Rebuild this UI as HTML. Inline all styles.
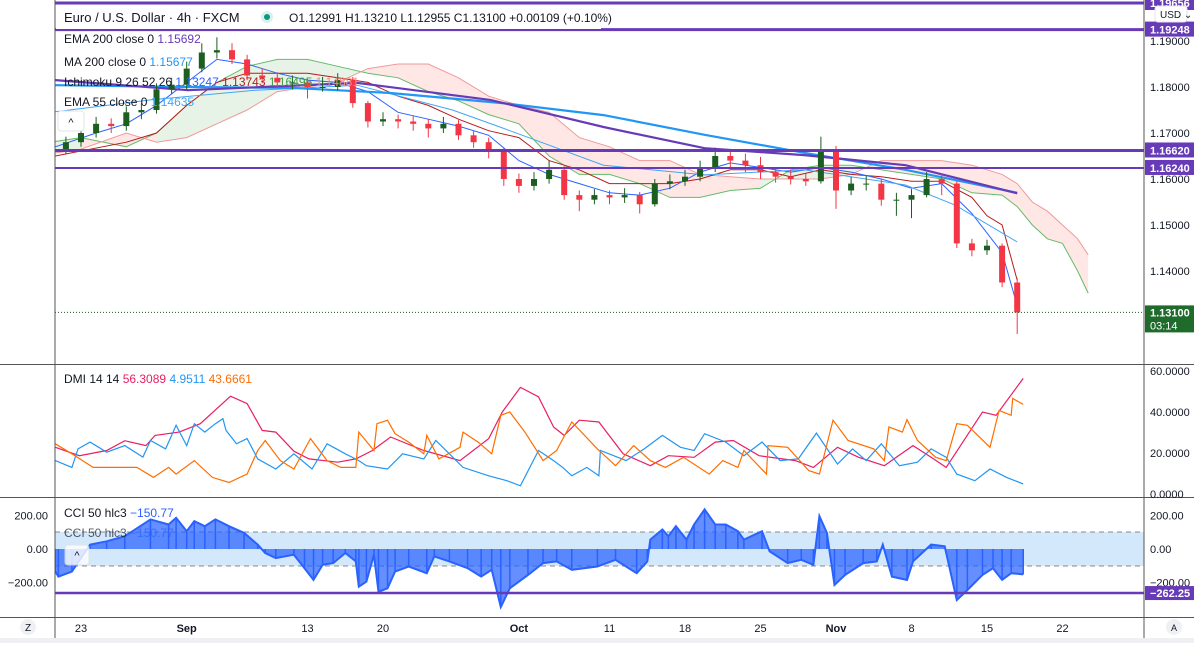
<!DOCTYPE html>
<html><head><meta charset="utf-8">
<style>
html,body{margin:0;padding:0;background:#fff;}
body{width:1194px;height:643px;overflow:hidden;font-family:"Liberation Sans",sans-serif;}
svg text{font-family:"Liberation Sans",sans-serif;}
</style></head>
<body>
<svg id="chart" width="1194" height="643" viewBox="0 0 1194 643" xmlns="http://www.w3.org/2000/svg">
  <defs>
    <clipPath id="mainClip"><rect x="55" y="0" width="1089" height="364"/></clipPath>
    <clipPath id="dmiClip"><rect x="55" y="364" width="1089" height="133"/></clipPath>
    <clipPath id="cciClip"><rect x="55" y="497" width="1089" height="120"/></clipPath>
  </defs>
  <rect x="0" y="0" width="1194" height="643" fill="#fff"/>
  <rect x="55" y="532" width="1089" height="34" fill="#d4e8fb"/>
  <line x1="55" y1="532" x2="1144" y2="532" stroke="#888" stroke-dasharray="5,4" stroke-width="1"/>
  <line x1="55" y1="566" x2="1144" y2="566" stroke="#888" stroke-dasharray="5,4" stroke-width="1"/>
  <g id="cloud" clip-path="url(#mainClip)"></g>
  <g id="lines" clip-path="url(#mainClip)"></g>
  <g id="candles" clip-path="url(#mainClip)"></g>
  <g id="dmi" clip-path="url(#dmiClip)"></g>
  <g id="cci" clip-path="url(#cciClip)"></g>
  <g id="hlines"></g>
  <line x1="55" y1="0" x2="55" y2="643" stroke="#555" stroke-width="1"/>
  <line x1="1144" y1="0" x2="1144" y2="643" stroke="#555" stroke-width="1"/>
  <line x1="0" y1="364.5" x2="1194" y2="364.5" stroke="#555" stroke-width="1"/>
  <line x1="0" y1="497.5" x2="1194" y2="497.5" stroke="#555" stroke-width="1"/>
  <line x1="0" y1="617.5" x2="1194" y2="617.5" stroke="#555" stroke-width="1"/>
  <rect x="0" y="638" width="1194" height="5" fill="#eef0f4"/>
  <g id="axes"></g>
  <rect x="56" y="6" width="545" height="23" fill="#fff"/>
  <text x="64" y="22" font-size="13" fill="#131722">Euro / U.S. Dollar · 4h · FXCM</text>
  <circle cx="267" cy="17" r="6" fill="#d9f0ec"/>
  <circle cx="267" cy="17" r="3" fill="#089981"/>
  <text x="289" y="22" font-size="12" fill="#131722">O1.12991 H1.13210 L1.12955 C1.13100 +0.00109 (+0.10%)</text>
  <text x="64" y="43" font-size="12" fill="#131722">EMA 200 close 0 <tspan fill="#673ab7">1.15692</tspan></text>
  <text x="64" y="66" font-size="12" fill="#131722">MA 200 close 0 <tspan fill="#2196f3">1.15677</tspan></text>
  <text x="64" y="86" font-size="12" fill="#131722">Ichimoku 9 26 52 26 <tspan fill="#2962ff">1.13247</tspan> <tspan fill="#b71c1c">1.13743</tspan> <tspan fill="#43a047">1.16495</tspan> <tspan fill="#f28b82">1.14881</tspan></text>
  <text x="64" y="106" font-size="12" fill="#131722">EMA 55 close 0 <tspan fill="#42a5f5">1.14635</tspan></text>
  <rect x="58" y="111" width="26" height="20" rx="3" fill="#fff" stroke="#e0e3eb"/>
  <text x="71" y="126" font-size="11" text-anchor="middle" fill="#131722">^</text>
  <text x="64" y="383" font-size="12" fill="#131722">DMI 14 14 <tspan fill="#e91e63">56.3089</tspan> <tspan fill="#2196f3">4.9511</tspan> <tspan fill="#ff6d00">43.6661</tspan></text>
  <text x="64" y="517" font-size="12" fill="#131722">CCI 50 hlc3 <tspan fill="#2962ff">−150.77</tspan></text>
  <text x="64" y="537" font-size="12" fill="#131722" opacity="0.7">CCI 50 hlc3 <tspan fill="#2962ff">−150.77</tspan></text>
  <rect x="65" y="545" width="24" height="20" rx="3" fill="#fff" stroke="#e0e3eb" opacity="0.8"/>
  <text x="77" y="559" font-size="11" text-anchor="middle" fill="#131722">^</text>
  <rect x="1155" y="6" width="32" height="16" rx="3" fill="#fff" stroke="#e0e3eb"/>
  <text x="1160" y="18" font-size="10" fill="#131722">USD ⌄</text>
  <circle cx="28" cy="627" r="8" fill="#eef0f4"/>
  <text x="28" y="631" font-size="10" text-anchor="middle" fill="#131722">Z</text>
  <circle cx="1174" cy="627" r="8" fill="#eef0f4"/>
  <text x="1174" y="631" font-size="9" text-anchor="middle" fill="#131722">A</text>
</svg>
<script>
const candleT = [-1,0,1,2,3,4,5,6,7,8,9,10,11,12,13,14,15,16,17,18,19,20,21,22,23,24,25,26,27,28,29,30,31,32,33,34,35,36,37,38,39,40,41,42,43,44,45,46,47,48,49,50,51,52,53,54,55,56,57,58,59,60,61,62];
const opens  = [1.1665,1.1680,1.1700,1.1720,1.1715,1.1745,1.1750,1.1795,1.1805,1.1840,1.1875,1.1880,1.1860,1.1825,1.1820,1.1810,1.1810,1.1800,1.1800,1.1815,1.1765,1.1725,1.1730,1.1725,1.1720,1.1710,1.1720,1.1695,1.1680,1.1660,1.1600,1.1585,1.1600,1.1620,1.1565,1.1555,1.1565,1.1560,1.1565,1.1545,1.1590,1.1595,1.1605,1.1625,1.1650,1.1640,1.1630,1.1615,1.1605,1.1600,1.1595,1.1665,1.1575,1.1590,1.1590,1.1555,1.1555,1.1565,1.1600,1.1590,1.1460,1.1445,1.1455,1.1375];
const closes = [1.1680,1.1700,1.1720,1.1715,1.1745,1.1750,1.1795,1.1805,1.1840,1.1875,1.1880,1.1860,1.1825,1.1820,1.1810,1.1810,1.1800,1.1800,1.1815,1.1765,1.1725,1.1730,1.1725,1.1720,1.1710,1.1720,1.1695,1.1680,1.1660,1.1600,1.1585,1.1600,1.1620,1.1565,1.1555,1.1565,1.1560,1.1565,1.1545,1.1590,1.1595,1.1605,1.1625,1.1650,1.1640,1.1630,1.1615,1.1605,1.1600,1.1595,1.1665,1.1575,1.1590,1.1590,1.1555,1.1555,1.1565,1.1600,1.1590,1.1460,1.1445,1.1455,1.1375,1.1310];
const highs  = [1.1692,1.1712,1.1735,1.1732,1.1758,1.1765,1.1808,1.1820,1.1855,1.1895,1.1908,1.1895,1.1870,1.1840,1.1832,1.1825,1.1818,1.1822,1.1830,1.1822,1.1770,1.1745,1.1740,1.1738,1.1730,1.1735,1.1728,1.1705,1.1690,1.1668,1.1612,1.1615,1.1640,1.1628,1.1575,1.1578,1.1575,1.1580,1.1572,1.1600,1.1610,1.1620,1.1640,1.1668,1.1662,1.1655,1.1648,1.1625,1.1620,1.1612,1.1692,1.1672,1.1605,1.1608,1.1600,1.1570,1.1578,1.1615,1.1612,1.1595,1.1470,1.1468,1.1460,1.1385];
const lows   = [1.1655,1.1670,1.1690,1.1700,1.1705,1.1730,1.1742,1.1785,1.1795,1.1832,1.1862,1.1850,1.1815,1.1808,1.1800,1.1795,1.1775,1.1790,1.1792,1.1755,1.1712,1.1715,1.1710,1.1705,1.1690,1.1700,1.1685,1.1668,1.1645,1.1585,1.1570,1.1575,1.1590,1.1555,1.1530,1.1545,1.1545,1.1548,1.1525,1.1540,1.1578,1.1585,1.1595,1.1615,1.1625,1.1615,1.1600,1.1592,1.1588,1.1585,1.1590,1.1535,1.1565,1.1575,1.1542,1.1520,1.1515,1.1560,1.1565,1.1450,1.1432,1.1435,1.1365,1.1263];

const ema200T = [-1.7,7.1,18.3,27.1,34.6,41.3,47.9,54.6,62];
const ema200V = [1.1815,1.1793,1.1809,1.1772,1.1713,1.1667,1.1652,1.1630,1.1569];
const ma200T  = [-1.7,7,14,20.5,27.9,34.6,41.3,47.9,54.6,62];
const ma200V  = [1.1804,1.1800,1.1798,1.1787,1.1765,1.1739,1.1696,1.1657,1.1620,1.1570];
const ema55T  = [-1.7,4.6,11.6,18.3,24.6,27.9,34.6,41.3,47.9,54.6,57.9,62];
const ema55V  = [1.1746,1.1772,1.1793,1.1804,1.1750,1.1711,1.1630,1.1609,1.1620,1.1587,1.1543,1.1463];

const spanT = [-2,0,3,5,7,9,11,13,15,17,19,21,23,25,27,29,31,33,35,37,39,41,43,45,47,49,51,53,55,57,59,61,62,63,64,65,66,66.7];
const spanA = [1.1680,1.1690,1.1670,1.1700,1.1760,1.1810,1.1845,1.1860,1.1860,1.1845,1.1830,1.1820,1.1790,1.1770,1.1740,1.1720,1.1650,1.1610,1.1610,1.1590,1.1560,1.1560,1.1575,1.1580,1.1620,1.1630,1.1630,1.1620,1.1610,1.1600,1.1570,1.1565,1.1540,1.1500,1.1470,1.1460,1.1400,1.1352];
const spanB = [1.1655,1.1665,1.1700,1.1680,1.1690,1.1720,1.1750,1.1790,1.1800,1.1810,1.1840,1.1850,1.1850,1.1820,1.1780,1.1760,1.1745,1.1690,1.1670,1.1640,1.1640,1.1610,1.1605,1.1600,1.1600,1.1600,1.1610,1.1640,1.1640,1.1640,1.1630,1.1610,1.1590,1.1550,1.1530,1.1500,1.1470,1.1435];
const tenkanT = [-1.7,1,3,5,7,9,11,13,15,17,19,21,23,25,27,29,31,33,35,37,39,41,43,45,47,49,51,53,55,57,59,61,62];
const tenkanV = [1.1670,1.1700,1.1720,1.1760,1.1810,1.1860,1.1850,1.1830,1.1815,1.1810,1.1790,1.1745,1.1730,1.1715,1.1695,1.1640,1.1610,1.1590,1.1570,1.1565,1.1580,1.1615,1.1635,1.1625,1.1615,1.1625,1.1615,1.1600,1.1580,1.1590,1.1525,1.1440,1.1325];
const kijunT = [-1.7,3,5,7,9,11,15,17,19,21,23,25,27,29,31,33,35,37,39,41,43,45,47,49,51,53,55,57,59,60,61,62];
const kijunV = [1.1650,1.1680,1.1700,1.1760,1.1810,1.1830,1.1830,1.1820,1.1810,1.1780,1.1760,1.1730,1.1705,1.1690,1.1640,1.1620,1.1590,1.1590,1.1590,1.1600,1.1620,1.1620,1.1605,1.1620,1.1610,1.1605,1.1595,1.1595,1.1560,1.1520,1.1500,1.1380];

const levelPrices = [1.19656,1.19248,1.16620,1.16240];
const levelWidths = [3,3,3,2];
const priceTicks = [1.19,1.18,1.17,1.16,1.15,1.14];
const lastPrice = 1.13100;

const adxT = [-1.7,-0.1,1.7,2.9,4.3,4.9,6.5,7.9,9.9,11,12,12.9,14.1,15.1,17,18.2,19.3,20.5,22.7,25.1,27,27.9,29.1,30.3,31.3,32,33,34.3,35.9,37.7,38.9,40.6,42,43.2,44.9,47.3,48.5,50.1,51.5,53.2,55.1,56.3,57.3,59.7,60.6,62.4];
const adxV = [22.8,18.7,21.2,26,23.6,28.6,30.2,34.3,47.7,44.1,31,30.2,20.9,17.1,15.5,17.1,21.2,27.8,21.2,16.3,27,40,52,47.4,32.7,28.6,36,35.1,19.6,13.8,18.7,17.9,25.3,26.1,18.7,16.3,13,22.8,17.9,13.8,23.6,17.9,13,40,38.4,56.4];
const plusDiT = [-1.7,-0.6,-0.2,0.6,1.7,2.9,4.1,4.6,5.6,6.3,7,7.5,8.2,8.9,9.4,9.6,10.3,11,11.7,12.9,14.1,15.3,16.3,17.5,18.4,18.9,20.3,21.3,22.7,23.5,24.4,25.3,27,28.2,29.1,30.3,31.3,31.9,32.5,33.5,34.3,34.4,36.1,37.3,38.5,39.7,40.6,41.3,42.7,43.9,45.1,46.3,47.5,48.7,50.1,51.1,52,53,54.2,55.4,56.3,57.3,58,59.2,60.2,61.3,62.4];
const plusDiV = [16.3,13,22,25.3,20.4,23.6,18,26.1,22,33.5,23.6,34.3,30.2,34.3,36.8,31,24.5,27,17.1,12.2,19.6,12.2,24.5,19.6,16.3,13.8,12.2,19.6,17.1,26.1,19.6,13,8.9,6.5,4,21.2,16.3,13,8.9,13,8.9,21.2,16.3,22,28.6,22.8,21.2,29.4,25.3,18.7,25.3,16.3,17.1,29.7,14.6,22,16.3,24.5,13.8,15.5,22,17.9,9.7,6.5,12.2,8.1,4.95];
const minusDiT = [-1.7,-0.6,0.8,2.2,3.7,4.8,5.8,6.3,7.5,8.7,9.8,11,11.7,12.2,13.2,14.1,15.2,16.3,17.2,18.2,18.4,19.4,19.6,20.3,20.8,21.7,22.7,22.9,23.7,25.1,25.3,26.3,27.2,27.8,28.4,29.4,30.6,31.5,32.5,34.2,35.4,36.6,37.7,38.7,39.9,41.6,42.5,43.5,43.9,45.4,45.5,46.8,48.2,48.9,49.8,50.8,52.5,53.2,53.5,54.4,54.7,55.4,56.6,57.3,58,58.7,60.2,60.8,61.6,61.7,62.4];
const minusDiV = [24.5,19.6,13,13,13,8.1,13,9.7,16.3,8.1,5.6,9.7,21.2,26.1,16.3,12.2,27,16.3,13,13,30.2,21.2,34.3,36,29.4,25.3,19.6,28.6,17.1,22.8,30.2,25.3,19.6,38.4,40,30.2,16.3,21.2,35.1,22,13.8,23.6,16.3,13,17.9,9.7,16.3,13,21.2,9.7,23.6,22.8,11.4,9.7,36,26.1,22,16.3,32.7,30.2,36.3,26.1,17.9,16.3,34.3,33.5,22.8,40.8,38.4,46.6,43.7];
const dmiTicks = [60,40,20,0];

const cciT = [-1.7,-1.5,-0.6,0.6,1.7,2.9,4.6,5.8,6.3,7,7.5,8.2,8.9,9.8,10.8,11.7,12.2,12.9,14.1,14.8,15.4,16,16.7,17.5,18.2,18.4,18.9,19.4,19.7,20.3,20.8,21.7,22.9,23.4,24.4,25.6,26.5,27.2,27.8,28.4,29.6,30.6,31.5,32.5,34.2,35.4,36.8,37.5,37.7,38.5,38.9,39.4,40.1,40.6,41.3,42,42.7,43.5,43.9,45.1,45.6,46.8,47.7,48.5,48.9,49.4,49.9,50.6,51.8,52.7,53.1,53.7,54.7,55.1,56.3,57.2,58,58.7,59.7,60.4,61,61.6,62.4];
const cciV = [-134,-164,-134,26,46,76,176,146,186,106,166,136,176,136,96,26,-24,-54,-34,-114,-184,-94,-84,-24,-74,-224,-194,-34,-254,-234,-134,-104,-144,-44,-74,-114,-164,-124,-345,-234,-154,-84,-74,-124,-104,-64,-144,-74,56,116,76,136,56,146,236,146,146,106,56,106,-14,-84,-64,-94,196,96,-214,-154,-84,-74,26,-164,-184,-74,26,16,-304,-244,-154,-114,-184,-144,-151];
const cciTicks = [200,0,-200];
const cciLevel = -262.25;

const dateLabels = ["23","Sep","13","20","Oct","11","18","25","Nov","8","15","22"];
const dateLabelT = [0,7,15,20,29,35,40,45,50,55,60,65];

function xT(t){ return 81 + t*15.1; }
function yP(p){ return 179 - (p-1.16)*4600; }
function yD(v){ return 494 - v*2.05; }
function yC(v){ return 549 - v*0.168; }

const NS = "http://www.w3.org/2000/svg";
function mk(tag, attrs, parent){
  const e = document.createElementNS(NS, tag);
  for (const k in attrs) e.setAttribute(k, attrs[k]);
  parent.appendChild(e); return e;
}
function pts(T, V, fy){ return T.map((t,i)=>xT(t).toFixed(1)+","+fy(V[i]).toFixed(1)).join(" "); }

const gCloud = document.getElementById("cloud");
for (let i=0;i<spanT.length-1;i++){
  const bull = (spanA[i]+spanA[i+1]) >= (spanB[i]+spanB[i+1]);
  const poly = mk("polygon", {
    points: xT(spanT[i])+","+yP(spanA[i])+" "+xT(spanT[i+1])+","+yP(spanA[i+1])+" "+xT(spanT[i+1])+","+yP(spanB[i+1])+" "+xT(spanT[i])+","+yP(spanB[i]),
    fill: bull ? "rgba(67,160,71,0.13)" : "rgba(244,67,54,0.13)"
  }, gCloud);
  
  
}
const sa = mk("polyline",{points:pts(spanT,spanA,yP),fill:"none",stroke:"#66bb6a","stroke-width":1},gCloud);


const sb = mk("polyline",{points:pts(spanT,spanB,yP),fill:"none",stroke:"#ef9a9a","stroke-width":1},gCloud);



const gL = document.getElementById("lines");
const lk = mk("polyline",{points:pts(kijunT,kijunV,yP),fill:"none",stroke:"#b71c1c","stroke-width":1},gL);


const lt = mk("polyline",{points:pts(tenkanT,tenkanV,yP),fill:"none",stroke:"#2962ff","stroke-width":1},gL);


const l55 = mk("polyline",{points:pts(ema55T,ema55V,yP),fill:"none",stroke:"#42a5f5","stroke-width":1},gL);


const lma = mk("polyline",{points:pts(ma200T,ma200V,yP),fill:"none",stroke:"#2196f3","stroke-width":2.2},gL);


const lema = mk("polyline",{points:pts(ema200T,ema200V,yP),fill:"none",stroke:"#673ab7","stroke-width":2.2},gL);



const gC = document.getElementById("candles");
for (let i=0;i<candleT.length;i++){
  const x = xT(candleT[i]);
  const up = closes[i] >= opens[i];
  const col = up ? "#1b5e20" : "#f23645";
  const g = mk("g",{},gC);
  
  
  mk("line",{x1:x,x2:x,y1:yP(highs[i]),y2:yP(lows[i]),stroke:col,"stroke-width":1},g);
  const top = yP(Math.max(opens[i],closes[i])), bot = yP(Math.min(opens[i],closes[i]));
  mk("rect",{x:x-3,y:top,width:6,height:Math.max(1,bot-top),fill:col},g);
}
const lp = mk("line",{x1:55,x2:1144,y1:yP(lastPrice),y2:yP(lastPrice),stroke:"#1b5e20","stroke-dasharray":"1,2","stroke-width":1},gC);



const gH = document.getElementById("hlines");
const gA = document.getElementById("axes");
function levelY(p){ return Math.max(yP(p), 3); }
for (let i=0;i<levelPrices.length;i++){
  const y = i===0 ? 3 : levelY(levelPrices[i]);
  const l = mk("line",{x1:55,x2:1144,y1:y,y2:y,stroke:"#673ab7","stroke-width":levelWidths[i]},gH);
  
  
}
priceTicks.forEach(p=>{
  const t = mk("text",{x:1150,y:yP(p)+4,"font-size":11,fill:"#131722"},gA);
  t.textContent = p.toFixed(5);
  
  
});
for (let i=0;i<levelPrices.length;i++){
  const y = i===0 ? 3 : levelY(levelPrices[i]);
  const r = mk("rect",{x:1145,y:y-8,width:49,height:15,fill:"#673ab7"},gA);
  
  
  const t = mk("text",{x:1150,y:y+4,"font-size":11,fill:"#fff","font-weight":"bold"},gA);
  t.textContent = levelPrices[i].toFixed(5);
  
  
}
const lpr = mk("rect",{x:1145,y:yP(lastPrice)-7,width:49,height:27,fill:"#1e6b2b"},gA);


const lpt = mk("text",{x:1150,y:yP(lastPrice)+4,"font-size":11,fill:"#fff","font-weight":"bold"},gA);
lpt.textContent = lastPrice.toFixed(5);


const cdt = mk("text",{x:1150,y:yP(lastPrice)+17,"font-size":11,fill:"#fff"},gA);
cdt.textContent = "03:14";



const gD = document.getElementById("dmi");
const dAdx = mk("polyline",{points:pts(adxT,adxV,yD),fill:"none",stroke:"#e91e63","stroke-width":1.2},gD);


const dPlus = mk("polyline",{points:pts(plusDiT,plusDiV,yD),fill:"none",stroke:"#2196f3","stroke-width":1.2},gD);


const dMinus = mk("polyline",{points:pts(minusDiT,minusDiV,yD),fill:"none",stroke:"#ff6d00","stroke-width":1.2},gD);


dmiTicks.forEach(v=>{
  const t = mk("text",{x:1150,y:yD(v)+4,"font-size":11,fill:"#131722"},gA);
  t.textContent = v.toFixed(4);
  
  
});

const gCC = document.getElementById("cci");
const areaPts = xT(cciT[0])+","+yC(0)+" "+pts(cciT,cciV,yC)+" "+xT(cciT[cciT.length-1])+","+yC(0);
const ca = mk("polygon",{points:areaPts,fill:"rgba(41,98,255,0.72)"},gCC);


for (let i=0;i<cciT.length;i++){
  const b = mk("line",{x1:xT(cciT[i]),x2:xT(cciT[i]),y1:yC(0),y2:yC(cciV[i]),stroke:"#2962ff","stroke-width":1.5},gCC);
  
  
}
const cl = mk("polyline",{points:pts(cciT,cciV,yC),fill:"none",stroke:"#2962ff","stroke-width":2},gCC);


const clv = mk("line",{x1:55,x2:1144,y1:yC(cciLevel),y2:yC(cciLevel),stroke:"#673ab7","stroke-width":2.5},gH);


cciTicks.forEach(v=>{
  const t = mk("text",{x:1150,y:yC(v)+4,"font-size":11,fill:"#131722"},gA);
  t.textContent = v.toFixed(2).replace("-","−");
  
  
  const t2 = mk("text",{x:48,y:yC(v)+4,"font-size":11,fill:"#131722","text-anchor":"end"},gA);
  t2.textContent = v.toFixed(2).replace("-","−");
  
  
});
const clr = mk("rect",{x:1145,y:yC(cciLevel)-7,width:49,height:14,fill:"#673ab7"},gA);


const clt = mk("text",{x:1150,y:yC(cciLevel)+4,"font-size":11,fill:"#fff","font-weight":"bold"},gA);
clt.textContent = cciLevel.toFixed(2).replace("-","−");



dateLabels.forEach((s,i)=>{
  const t = mk("text",{x:xT(dateLabelT[i]),y:632,"font-size":11,fill:"#131722","text-anchor":"middle","font-weight":(isNaN(+s)?"bold":"normal")},gA);
  t.textContent = s;
  
  
});
</script>
</body></html>
